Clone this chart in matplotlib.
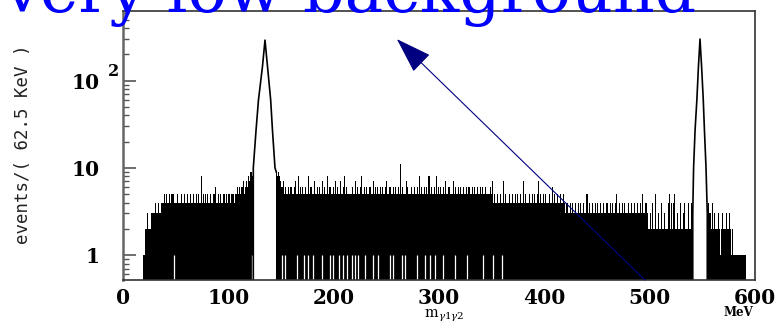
import numpy as np
import matplotlib
matplotlib.use("Agg")
import matplotlib.pyplot as plt
from matplotlib.ticker import FixedLocator, NullFormatter

# ---------------- data ----------------
# background counts per 1 MeV bin, hex digits (a=10, b=11)
bg_a_start = 19
bg_a = ("1122322233" "3433433444" "5454454554" "4454445445" "4454454544"
        "5454484545" "4544545564" "4545445545" "4554554556" "5656675676" "8798a")
bg_b_start = 145
bg_b = ("9898766756" "5565655675" "5856565565" "5856557556" "5655756558"
        "5655657565" "5755685655" "5565575655" "6855656556" "5575656556"
        "5655675565" "56565565b5" "6555765565" "5655658565" "5656585655"
        "6585656556" "5755655575" "6556565565" "5656556565" "5655656556"
        "5556574544" "5445447454" "4544544545" "4454474544" "5445454457"
        "4544545445" "4464544544" "5445434334" "3433433434" "3343353433"
        "4334343343" "3433433434" "3345334334" "3433433433" "4334334353"
        "3432232422" "5223224223" "2245242452" "2322422342" "242242")
bg_c_start = 554
bg_c = ("3433242322" "2321232232" "2321211111" "1111111")

# bins with no empty sub-bin (white below 1)
gap_x = [48.5, 122, 150.7, 153.8, 164.9, 171.8, 175.9, 180.7, 188.6, 196.5,
         199.6, 205.4, 209.2, 212.4, 217.1, 220.3, 223.5, 229.8, 237.7, 242.5,
         253.6, 256.7, 264.6, 267.8, 278.9, 286.8, 291.5, 296.3, 304.1, 315.2,
         326.3, 342.1, 351.6, 359.5]

# pi0 and eta peaks (MeV, events)
pi0_x = [123.7, 123.7, 126.3, 128.6, 132.4, 134.8, 137.2, 140.2, 141.9, 144.3, 145.5]
pi0_y = [0.52, 10, 27, 60, 145, 292, 145, 60, 27, 10, 9]
eta_x = [540.9, 540.9, 541.7, 543.1, 544.8, 546.3, 547.8, 549.3, 550.9, 552.0, 553.5, 554.7, 554.7]
eta_y = [0.52, 3, 10, 27, 60, 145, 300, 145, 60, 27, 10, 3, 0.52]

x_ticks = [0, 100, 200, 300, 400, 500, 600]
y_ticks = [1, 10, 100]
y_ticklabels = ["1", "10", "10"]

title = "very low background"
arrow_tail = (495.5, 0.518)
arrow_head = (260, 300)

YMIN, YMAX = 0.518, 630

# ---------------- figure ----------------
fig = plt.figure(figsize=(7.77, 3.26), dpi=100)
ax = fig.add_axes([123/777, 1-280/326, (755-123)/777, (280-11)/326])
ax.set_yscale("log")
ax.set_xlim(0, 600)
ax.set_ylim(YMIN, YMAX)

for start, s in [(bg_a_start, bg_a), (bg_b_start, bg_b), (bg_c_start, bg_c)]:
    vals = np.array([int(c, 16) for c in s], dtype=float)
    edges = start + np.arange(len(vals) + 1)
    ax.stairs(vals, edges, baseline=0.3, fill=True, color="black", lw=0)

ax.vlines(gap_x, 0.3, 1.0, color="white", lw=0.9)

ax.plot(pi0_x, pi0_y, color="black", lw=1.2)
ax.plot(eta_x, eta_y, color="black", lw=1.2)

# axes styling
for side in ["top", "bottom", "right"]:
    ax.spines[side].set_color("#333333")
    ax.spines[side].set_linewidth(1.2)
ax.spines["left"].set_color("#666666")
ax.spines["left"].set_linewidth(1.8)

tickfont = dict(family="DejaVu Serif", weight="bold", size=14.5)
ax.set_xticks(x_ticks)
ax.set_xticklabels([str(v) for v in x_ticks], **tickfont)
ax.tick_params(axis="x", length=0, pad=6)

ax.yaxis.set_major_locator(FixedLocator(y_ticks))
minors = [m * 10.0**e for e in (-1, 0, 1, 2) for m in range(2, 10)]
minors = [v for v in minors if YMIN < v < YMAX]
ax.yaxis.set_minor_locator(FixedLocator(minors))
ax.yaxis.set_minor_formatter(NullFormatter())
ax.set_yticklabels(y_ticklabels, **tickfont)
ax.tick_params(axis="y", which="major", direction="in", length=9, width=1.2,
               color="#555555", pad=17)
ax.tick_params(axis="y", which="minor", direction="in", length=4.5, width=1.0,
               color="#555555")
ax.tick_params(right=False, top=False)

# superscript 2 of 10^2
fig.text(108/777, 1-71/326, "2", ha="left", va="center",
         family="DejaVu Serif", weight="bold", fontsize=11.5)

# axis labels
fig.text(23/777, 1-144/326, "events/( 62.5 KeV )", rotation=90, ha="center",
         va="center", family="DejaVu Sans Mono", fontsize=12.5, color="#222222")
plt.rcParams["mathtext.fontset"] = "dejavuserif"
fig.text(444/777, 1-316/326, r"$\mathrm{m}_{\gamma1\gamma2}$", ha="center",
         va="center", fontsize=10.5)
fig.text(738/777, 1-313/326, "MeV", ha="center", va="center",
         family="DejaVu Serif", weight="bold", fontsize=8.5)

# title & arrow
fig.text(3/777, 1-12/326, title, ha="left", va="baseline", color="#0000ff",
         family="DejaVu Serif", fontsize=46.8, zorder=10)
ax.annotate("", xy=arrow_head, xytext=arrow_tail, annotation_clip=False,
            arrowprops=dict(arrowstyle="-|>,head_length=1.15,head_width=0.38",
                            mutation_scale=20, color="#000080", lw=0.8,
                            shrinkA=0, shrinkB=0), zorder=10)

fig.savefig("out.png", dpi=100)
